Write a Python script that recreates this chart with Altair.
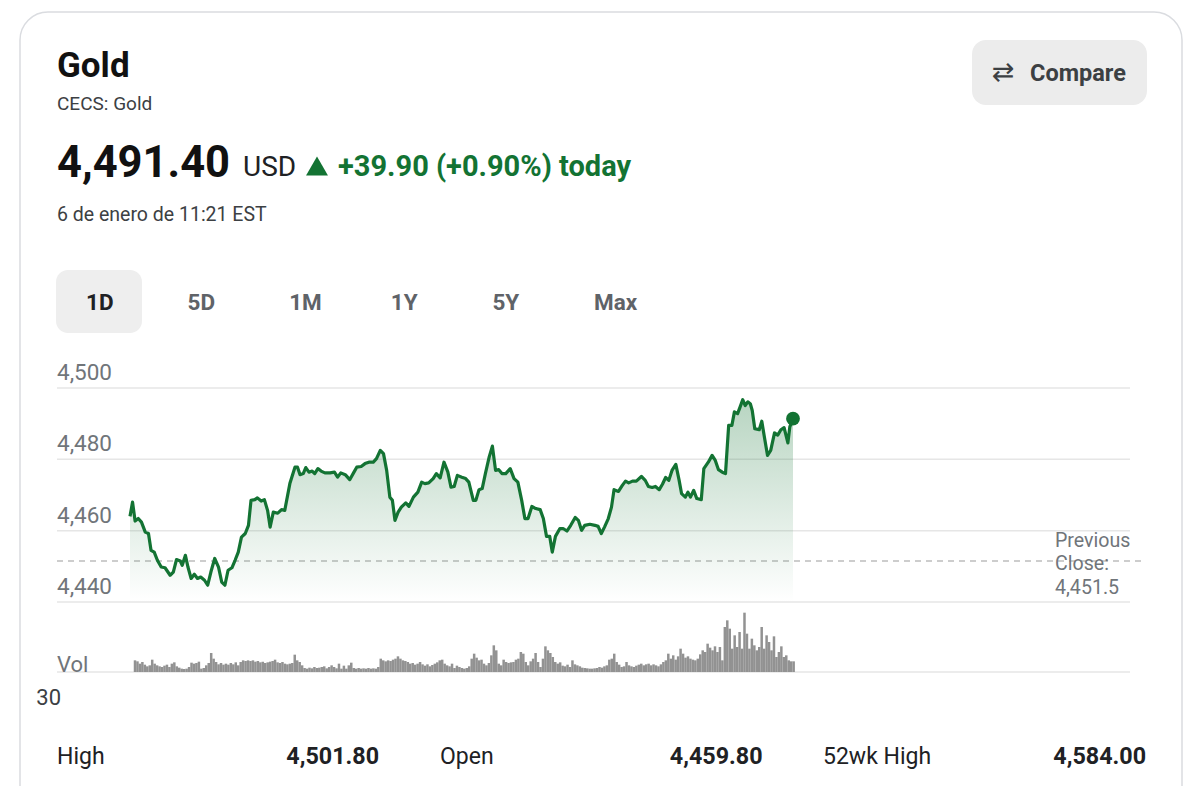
import altair as alt
import pandas as pd

# ---------------- data ----------------
TITLE = "Gold"
SUBTITLE = "CECS: Gold"
LAST_PRICE = "4,491.40"
CURRENCY = "USD"
CHANGE = "+39.90 (+0.90%) today"
TIMESTAMP = "6 de enero de 11:21 EST"
COMPARE = "Compare"
TABS = ["1D", "5D", "1M", "1Y", "5Y", "Max"]
ACTIVE_TAB = "1D"
Y_TICKS = [4440, 4460, 4480, 4500]
Y_TICK_LABELS = ["4,440", "4,460", "4,480", "4,500"]
PREV_CLOSE = 4451.5
STAT_LABELS = ["High", "Open", "52wk High"]
STAT_VALUES = ["4,501.80", "4,459.80", "4,584.00"]

# minutes since session start (18:00 previous day)
PRICE_T = [0, 4, 8, 13, 18, 24, 29, 33, 38, 43, 49, 55, 63, 68, 73, 79, 82, 87, 91, 96,
           101, 106, 111, 117, 122, 127, 133, 139, 144, 149, 154, 160, 165, 170, 175, 181,
           186, 190, 196, 200, 206, 211, 216, 220, 225, 232, 238, 243, 251, 259, 263, 267,
           272, 276, 281, 286, 290, 295, 300, 306, 314, 321, 326, 331, 338, 345, 351, 356,
           363, 369, 375, 382, 387, 393, 398, 403, 408, 412, 416, 421, 426, 433, 438, 445,
           452, 458, 463, 469, 476, 481, 487, 493, 499, 504, 509, 514, 521, 527, 532, 539,
           543, 548, 553, 558, 564, 569, 574, 579, 584, 590, 597, 603, 609, 615, 620, 625,
           631, 637, 644, 649, 654, 659, 663, 668, 675, 680, 686, 692, 699, 704, 709, 714,
           722, 730, 735, 740, 745, 751, 756, 760, 767, 773, 778, 783, 789, 795, 803, 809,
           814, 820, 825, 831, 836, 841, 846, 851, 857, 862, 866, 872, 876, 880, 885, 890,
           897, 901, 908, 914, 919, 924, 930, 935, 940, 945, 949, 954, 958, 962, 966, 970,
           974, 977, 981, 988, 992, 996, 1001, 1006, 1012, 1017, 1022, 1027, 1033, 1036, 1041]
PRICE = [4464.0, 4468.0, 4462.7, 4463.4, 4462.4, 4459.6, 4459.2, 4454.5, 4454.0, 4451.7,
         4449.8, 4449.6, 4447.5, 4448.4, 4451.9, 4451.5, 4450.3, 4453.1, 4449.8, 4446.6,
         4447.8, 4446.6, 4447.0, 4446.1, 4444.7, 4448.4, 4452.2, 4449.8, 4445.6, 4444.7,
         4448.9, 4449.6, 4451.7, 4454.0, 4458.2, 4459.2, 4461.5, 4468.5, 4468.7, 4469.2,
         4468.3, 4468.7, 4465.7, 4461.0, 4465.2, 4464.9, 4465.9, 4465.7, 4473.2, 4477.8,
         4477.8, 4475.7, 4476.0, 4477.7, 4476.4, 4476.7, 4476.0, 4477.4, 4476.7, 4476.2,
         4476.2, 4476.4, 4475.0, 4476.2, 4475.7, 4474.3, 4476.2, 4477.8, 4478.0, 4478.8,
         4479.2, 4479.2, 4480.2, 4482.5, 4481.6, 4476.9, 4469.4, 4468.5, 4462.9, 4465.2,
         4466.6, 4467.8, 4466.8, 4469.4, 4470.8, 4473.6, 4473.2, 4473.4, 4474.6, 4476.0,
         4474.8, 4479.2, 4476.5, 4472.2, 4472.4, 4475.5, 4475.0, 4474.6, 4473.6, 4468.5,
         4468.5, 4471.5, 4471.8, 4476.0, 4480.7, 4483.7, 4476.9, 4477.1, 4476.0, 4476.0,
         4477.4, 4474.6, 4473.6, 4468.5, 4463.4, 4463.4, 4466.8, 4466.2, 4465.9, 4463.4,
         4458.4, 4458.4, 4454.0, 4458.4, 4460.6, 4460.6, 4459.9, 4461.5, 4463.7, 4462.9,
         4460.1, 4461.5, 4461.8, 4461.5, 4461.2, 4459.2, 4461.0, 4463.4, 4466.6, 4471.5,
         4471.0, 4472.7, 4473.9, 4473.4, 4473.9, 4473.9, 4475.2, 4474.1, 4472.4, 4472.1,
         4472.4, 4471.5, 4473.0, 4474.9, 4474.1, 4476.9, 4478.6, 4474.3, 4470.4, 4469.4,
         4470.8, 4469.4, 4471.3, 4469.0, 4468.7, 4477.4, 4479.2, 4481.1, 4479.7, 4477.1,
         4476.4, 4476.0, 4489.5, 4489.5, 4493.3, 4492.8, 4494.7, 4496.7, 4495.1, 4496.1,
         4495.6, 4493.7, 4488.6, 4488.3, 4490.7, 4486.3, 4481.1, 4482.5, 4487.4, 4486.8,
         4488.3, 4488.9, 4484.6, 4489.1, 4491.4]

# relative volume per interval
VOLUME = [35, 32, 25, 30, 22, 17, 20, 37, 25, 20, 17, 15, 19, 22, 15, 25, 29, 17, 13, 10,
          9, 10, 15, 28, 25, 27, 31, 10, 12, 20, 27, 57, 40, 30, 23, 27, 22, 25, 22, 27,
          23, 29, 20, 30, 35, 33, 35, 33, 35, 31, 33, 29, 31, 27, 29, 31, 33, 37, 29, 27,
          30, 25, 23, 25, 27, 52, 35, 30, 20, 12, 10, 13, 11, 15, 12, 13, 15, 17, 11, 15,
          20, 15, 11, 25, 10, 19, 10, 20, 28, 12, 10, 12, 10, 11, 10, 12, 10, 11, 10, 15,
          40, 35, 32, 35, 33, 37, 40, 47, 40, 35, 33, 30, 25, 27, 22, 25, 30, 23, 19, 23,
          17, 21, 25, 29, 35, 37, 25, 20, 17, 25, 12, 19, 15, 12, 10, 12, 17, 40, 55, 43,
          35, 37, 25, 20, 27, 50, 80, 65, 25, 20, 37, 30, 27, 29, 30, 37, 40, 60, 55, 30,
          20, 32, 40, 57, 30, 15, 40, 77, 65, 57, 45, 30, 25, 29, 19, 17, 22, 15, 35, 23,
          20, 17, 13, 12, 11, 10, 10, 11, 12, 15, 13, 17, 20, 37, 40, 55, 30, 22, 15, 17,
          30, 20, 17, 15, 19, 22, 25, 20, 23, 25, 20, 23, 20, 17, 23, 30, 35, 55, 40, 50,
          37, 47, 70, 55, 43, 47, 40, 37, 35, 40, 53, 65, 60, 85, 73, 65, 77, 60, 75, 35,
          135, 155, 130, 70, 110, 75, 120, 70, 178, 115, 70, 100, 80, 65, 75, 135, 70, 110,
          90, 65, 107, 45, 60, 77, 45, 50, 35, 32, 32]
VOL_SPAN_MIN = 1050  # minutes covered by the volume bars

# ---------------- styling ----------------
W, H = 1184, 778
FONT = "Roboto"
GREEN = "#137333"
BLACK = "#111111"
DARK = "#202124"
MID = "#3c4043"
GREY = "#70757a"
GRID = "#e6e6e6"

n = len(VOLUME)
vol_df = pd.DataFrame({"t": [i * VOL_SPAN_MIN / (n - 1) for i in range(n)], "vol": VOLUME})
price_df = pd.DataFrame({"t": PRICE_T, "price": PRICE})
last_df = price_df.tail(1)
one = pd.DataFrame({"k": [0]})


def xs():
    return alt.Scale(domain=[0, 1041], range=[122, 785], nice=False, zero=False)


def ys():
    return alt.Scale(domain=[4440, 4500], range=[594, 380], nice=False, zero=False)


def txt(s, x, y, size, color=DARK, weight="normal", align="left", baseline="alphabetic", font=FONT):
    return alt.Chart(one).mark_text(
        text=s, align=align, baseline=baseline, fontSize=size, fontWeight=weight,
        color=color, font=font
    ).encode(x=alt.value(x), y=alt.value(y))


def box(x, x2, y, y2, fill, radius, stroke=None, sw=0):
    kw = dict(fill=fill, cornerRadius=radius)
    if stroke:
        kw.update(stroke=stroke, strokeWidth=sw)
    return alt.Chart(one).mark_rect(**kw).encode(
        x=alt.value(x), x2=alt.value(x2), y=alt.value(y), y2=alt.value(y2))


card = box(12, 1174, 4, 830, "white", 28, stroke="#dadce0", sw=1.5)
compare_bg = box(964, 1139, 32, 97, "#ececec", 14)
tab_bg = box(48, 134, 262, 325, "#eeeeee", 12)
scroll_hint = box(850, 876, 781, 790, "#e3e3e3", 2)

grid = alt.Chart(pd.DataFrame({"v": Y_TICKS})).mark_rule(color=GRID, strokeWidth=1.5).encode(
    y=alt.Y("v:Q", scale=ys(), axis=None), x=alt.value(49), x2=alt.value(1122))
vol_grid = alt.Chart(one).mark_rule(color=GRID, strokeWidth=1.5).encode(
    y=alt.value(664), x=alt.value(49), x2=alt.value(1122))
prev_rule = alt.Chart(pd.DataFrame({"v": [PREV_CLOSE]})).mark_rule(
    color="#bdbdbd", strokeDash=[6, 5], strokeWidth=1.5).encode(
    y=alt.Y("v:Q", scale=ys(), axis=None), x=alt.value(49), x2=alt.value(1133))

gradient = alt.Gradient(
    gradient="linear",
    stops=[alt.GradientStop(color="rgba(19,115,51,0.30)", offset=0),
           alt.GradientStop(color="rgba(19,115,51,0.0)", offset=1)],
    x1=1, x2=1, y1=0, y2=1)

area = alt.Chart(price_df).mark_area(color=gradient).encode(
    x=alt.X("t:Q", scale=xs(), axis=None),
    y=alt.Y("price:Q", scale=ys(), axis=None),
    y2=alt.datum(4440))
line = alt.Chart(price_df).mark_line(color=GREEN, strokeWidth=3.2, strokeJoin="round").encode(
    x=alt.X("t:Q", scale=xs(), axis=None),
    y=alt.Y("price:Q", scale=ys(), axis=None))
dot = alt.Chart(last_df).mark_point(filled=True, size=190, color=GREEN, opacity=1).encode(
    x=alt.X("t:Q", scale=xs(), axis=None),
    y=alt.Y("price:Q", scale=ys(), axis=None))

vol = alt.Chart(vol_df).mark_bar(color="#929292", size=2.5, orient="vertical").encode(
    x=alt.X("t:Q", scale=xs(), axis=None),
    y=alt.Y("vol:Q", scale=alt.Scale(domain=[0, 210], range=[664, 594], nice=False), axis=None))

ylabels = alt.Chart(pd.DataFrame({"v": Y_TICKS, "lab": Y_TICK_LABELS})).mark_text(
    align="left", baseline="alphabetic", dy=-8, fontSize=22.5, font=FONT, color=GREY).encode(
    x=alt.value(49), y=alt.Y("v:Q", scale=ys(), axis=None), text="lab:N")

prev_label = alt.Chart(pd.DataFrame({"v": [PREV_CLOSE],
                                     "lab": ["Previous\nClose:\n" + f"{PREV_CLOSE:,.1f}"]})).mark_text(
    align="left", baseline="alphabetic", dy=-14, lineBreak="\n", lineHeight=23.5,
    fontSize=19.6, font=FONT, color=GREY).encode(
    x=alt.value(1047), y=alt.Y("v:Q", scale=ys(), axis=None), text="lab:N")

tabs = alt.Chart(pd.DataFrame({"tab": TABS})).mark_text(
    align="left", baseline="alphabetic", fontSize=22.5, fontWeight="bold", font=FONT).encode(
    x=alt.X("tab:N", scale=alt.Scale(domain=TABS, range=[78, 586], padding=0), axis=None),
    y=alt.value(302), text="tab:N",
    color=alt.condition(alt.datum.tab == ACTIVE_TAB, alt.value(DARK), alt.value("#5f6368")))

stat_labels = alt.Chart(pd.DataFrame({"lab": STAT_LABELS})).mark_text(
    align="left", baseline="alphabetic", fontSize=23, font=FONT, color=DARK).encode(
    x=alt.X("lab:N", scale=alt.Scale(domain=STAT_LABELS, range=[49, 815], padding=0), axis=None),
    y=alt.value(756), text="lab:N")
stat_values = alt.Chart(pd.DataFrame({"lab": STAT_LABELS, "val": STAT_VALUES})).mark_text(
    align="right", baseline="alphabetic", fontSize=23.3, fontWeight="bold", font=FONT, color=DARK).encode(
    x=alt.X("lab:N", scale=alt.Scale(domain=STAT_LABELS, range=[371, 1138], padding=0), axis=None),
    y=alt.value(756), text="val:N")

triangle = alt.Chart(one).mark_point(shape="triangle-up", filled=True, size=480, color=GREEN,
                                     opacity=1).encode(x=alt.value(309), y=alt.value(158))

layers = [
    card, compare_bg, tab_bg, scroll_hint,
    grid, vol_grid, prev_rule, area, line, dot, vol,
    ylabels, prev_label, tabs, stat_labels, stat_values, triangle,
    txt(TITLE, 49, 69, 35, color=BLACK, weight="bold"),
    txt(SUBTITLE, 49, 102, 19, color=MID),
    txt(LAST_PRICE, 49, 169, 43.5, color=BLACK, weight="bold"),
    txt(CURRENCY, 235, 168, 28, color=DARK),
    txt(CHANGE, 330, 168, 29, color=GREEN, weight="bold"),
    txt(TIMESTAMP, 49, 213, 19.5, color=MID),
    txt("\u21c4", 995, 65, 27, color=MID, align="center", baseline="middle", font="DejaVu Sans"),
    txt(COMPARE, 1022, 73, 23.5, color=MID, weight="bold"),
    txt("Vol", 49, 664, 22, color=GREY),
    txt("30", 53, 697, 22, color=MID, align="right"),
]

chart = alt.layer(*layers).resolve_scale(x="independent", y="independent").properties(
    width=W, height=H, padding=0, autosize=alt.AutoSizeParams(type="none"),
    background="white"
).configure_view(stroke=None)

chart.save("out.html", embed_options={"renderer": "svg", "actions": False})
